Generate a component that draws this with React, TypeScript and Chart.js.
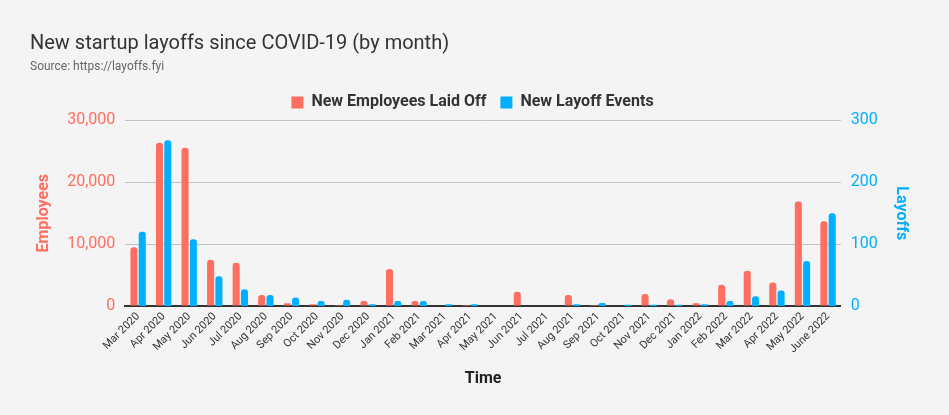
import React, { useEffect, useRef } from "react";
import { Chart, registerables } from "chart.js";
Chart.register(...registerables);

const categories = ["Mar 2020","Apr 2020","May 2020","Jun 2020","Jul 2020","Aug 2020","Sep 2020","Oct 2020","Nov 2020","Dec 2020","Jan 2021","Feb 2021","Mar 2021","Apr 2021","May 2021","Jun 2021","Jul 2021","Aug 2021","Sep 2021","Oct 2021","Nov 2021","Dec 2021","Jan 2022","Feb 2022","Mar 2022","Apr 2022","May 2022","June 2022"];
const employees = [9500,26400,25600,7500,7000,1800,450,300,170,800,6000,800,0,150,0,2300,0,1800,150,0,1950,1100,450,3450,5700,3800,16900,13700];
const events = [120,268,108,48,27,18,14,8,10,3,8,8,3,3,0,0,0,3,5,2,2,2,3,8,16,25,73,150];

export default function App() {
  const ref = useRef<HTMLCanvasElement>(null);
  useEffect(() => {
    document.body.style.margin = "0";
    document.body.style.background = "#f4f4f4";
    const font = "Roboto, Arial, sans-serif";
    const c = new Chart(ref.current!, {
      type: "bar",
      data: {
        labels: categories,
        datasets: [
          { label: "New Employees Laid Off", data: employees, backgroundColor: "#ff6f61", yAxisID: "y", borderRadius: { topLeft: 3, topRight: 3 }, borderSkipped: "bottom", categoryPercentage: 0.65, barPercentage: 0.85 },
          { label: "New Layoff Events", data: events, backgroundColor: "#00b0ff", yAxisID: "y1", borderRadius: { topLeft: 3, topRight: 3 }, borderSkipped: "bottom", categoryPercentage: 0.65, barPercentage: 0.85 },
        ],
      },
      options: {
        animation: false,
        responsive: false,
        layout: { padding: { left: 30, right: 34, top: 14, bottom: 22 } },
        plugins: {
          title: { display: true, text: "New startup layoffs since COVID-19 (by month)", align: "start", color: "#333", font: { family: font, size: 20, weight: "normal" }, padding: { top: 18, bottom: 4 } },
          subtitle: { display: true, text: "Source: https://layoffs.fyi", align: "start", color: "#666", font: { family: font, size: 12 }, padding: { bottom: 6 } },
          legend: { labels: { color: "#333", font: { family: font, size: 16, weight: "bold" }, boxWidth: 12, boxHeight: 12, padding: 14 } },
          tooltip: { enabled: false },
        },
        scales: {
          x: {
            grid: { display: false, drawTicks: false },
            border: { color: "#333", width: 2 },
            ticks: { color: "#333", font: { family: font, size: 11 }, maxRotation: 45, minRotation: 45, autoSkip: false, padding: 4 },
            title: { display: true, text: "Time", color: "#222", font: { family: font, size: 16, weight: "bold" }, padding: { top: 10 } },
          },
          y: {
            position: "left", min: 0, max: 30000,
            ticks: { stepSize: 10000, color: "#ff6f61", font: { family: font, size: 16 }, padding: 10 },
            grid: { color: "#c2c2c2", drawTicks: false },
            border: { display: false },
            title: { display: true, text: "Employees", color: "#ff6f61", font: { family: font, size: 16, weight: "bold" } },
          },
          y1: {
            position: "right", min: 0, max: 300,
            ticks: { stepSize: 100, color: "#00b0ff", font: { family: font, size: 16 }, padding: 10 },
            grid: { display: false, drawTicks: false },
            border: { display: false },
            title: { display: true, text: "Layoffs", color: "#00b0ff", font: { family: font, size: 16, weight: "bold" } },
          },
        },
      },
    });
    return () => c.destroy();
  }, []);
  return <canvas ref={ref} width={949} height={415} style={{ display: "block" }} />;
}
